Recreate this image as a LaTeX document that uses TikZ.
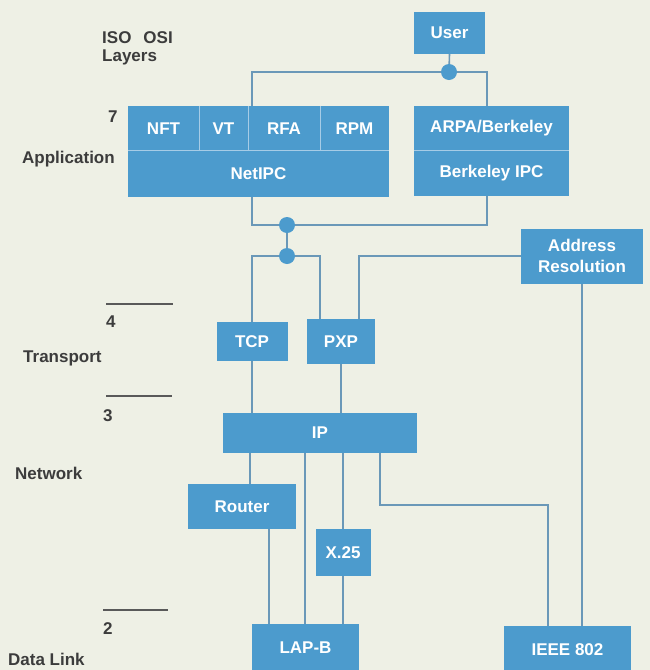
\documentclass[tikz,border=0pt]{standalone}
\usepackage{fontspec}
\setmainfont{Liberation Sans}
\definecolor{bgc}{HTML}{EEF0E5}
\definecolor{boxc}{HTML}{4C9BCD}
\definecolor{linec}{HTML}{6A98B8}
\definecolor{divc}{HTML}{A6CCE6}
\definecolor{labc}{HTML}{3C3C3C}
\pgfdeclarelayer{bg}
\pgfdeclarelayer{lines}
\pgfsetlayers{bg,lines,main}
\begin{document}
\begin{tikzpicture}[x=1pt,y=-1pt,
 box/.style={fill=boxc,text=white,inner sep=0pt,font=\bfseries\fontsize{17}{21}\selectfont,align=center},
 conn/.style={draw=linec,line width=1.6pt},
 jdot/.style={circle,fill=boxc,minimum size=16pt,inner sep=0pt},
 lab/.style={text=labc,inner sep=0pt,anchor=base west,font=\bfseries\fontsize{17}{20}\selectfont},
 layrule/.style={draw=labc!85,line width=1.3pt},
 divider/.style={draw=divc,line width=1.2pt}]
\useasboundingbox (0,0) rectangle (650,670);
\begin{pgfonlayer}{bg}
\fill[bgc] (0,0) rectangle (650,670);
\end{pgfonlayer}

% boxes
\node[box,minimum width=71pt,minimum height=42pt] (user) at (449.5,33) {User};
\node[box,minimum width=71pt,minimum height=45pt] (nft) at (163.5,128.5) {NFT};
\node[box,minimum width=49pt,minimum height=45pt] (vt) at (223.5,128.5) {VT};
\node[box,minimum width=72pt,minimum height=45pt] (rfa) at (284,128.5) {RFA};
\node[box,minimum width=69pt,minimum height=45pt] (rpm) at (354.5,128.5) {RPM};
\node[box,minimum width=261pt,minimum height=46pt] (netipc) at (258.5,174) {NetIPC};
\node[box,minimum width=155pt,minimum height=45pt] (arpa) at (491.5,128.5) {ARPA/Berkeley};
\node[box,minimum width=155pt,minimum height=45pt] (bipc) at (491.5,173.5) {Berkeley IPC};
\node[box,minimum width=71pt,minimum height=39pt] (tcp) at (252,341.5) {TCP};
\node[box,minimum width=68pt,minimum height=45pt] (pxp) at (341,341.5) {PXP};
\node[box,minimum width=122pt,minimum height=55pt] (addr) at (582,256) {Address\\Resolution};
\node[box,minimum width=194pt,minimum height=40pt] (ip) at (320,433) {IP};
\node[box,minimum width=108pt,minimum height=45pt] (router) at (242,506.5) {Router};
\node[box,minimum width=55pt,minimum height=47pt] (x25) at (343,552.5) {X.25};
\node[box,minimum width=107pt,minimum height=48pt] (lapb) at (305.5,648) {LAP-B};
\node[box,minimum width=127pt,minimum height=48pt] (ieee) at (567.5,650) {IEEE 802};

% dividers
\draw[divider] (nft.north east) -- (nft.south east);
\draw[divider] (vt.north east) -- (vt.south east);
\draw[divider] (rfa.north east) -- (rfa.south east);
\draw[divider] (netipc.north west) -- (netipc.north east);
\draw[divider] (bipc.north west) -- (bipc.north east);

% junction dots
\node[jdot] (udot) at (449,72) {};
\node[jdot] (dot1) at (287,225) {};
\node[jdot] (dot2) at (287,256) {};

% helper coordinates
\coordinate (rtin) at ([xshift=62pt]router.north west);
\coordinate (rtout) at ([xshift=81pt]router.south west);
\coordinate (lpin) at ([xshift=53pt]lapb.north west);
\coordinate (ieeein) at ([xshift=44pt]ieee.north west);
\coordinate (ipout) at ([xshift=157pt]ip.south west);

\begin{pgfonlayer}{lines}
\draw[conn] (user.south) -- (udot.center);
\draw[conn] ([xshift=4pt]rfa.north west) |- (udot.center) -| ([xshift=73pt]arpa.north west);
\draw[conn] ([xshift=124pt]netipc.south west) |- (dot1.center) -| ([xshift=73pt]bipc.south west);
\draw[conn] (dot1.center) -- (dot2.center);
\draw[conn] (tcp.north) |- (dot2.center) -| ([xshift=13pt]pxp.north west);
\draw[conn] ([xshift=52pt]pxp.north west) |- (addr.west);
\draw[conn] (addr.south) -- (addr.south |- ieee.north);
\draw[conn] (tcp.south) -- (tcp.south |- ip.north);
\draw[conn] (pxp.south) -- (pxp.south |- ip.north);
\draw[conn] (rtin |- ip.south) -- (rtin);
\draw[conn] (rtout) -- (rtout |- lapb.north);
\draw[conn] (lpin |- ip.south) -- (lpin);
\draw[conn] (x25.north |- ip.south) -- (x25.north);
\draw[conn] (x25.south) -- (x25.south |- lapb.north);
\draw[conn] (ipout) -- ++(0,52) -| (ieeein);
\end{pgfonlayer}

% layer labels
\node[lab] (iso) at (102,43) {ISO\hspace{12pt}OSI};
\node[lab] (layers) at (102,61) {Layers};
\node[lab] (l7) at (108,122) {7};
\node[lab] (app) at (22,163) {Application};
\node[lab] (l4) at (106,327) {4};
\node[lab] (transp) at (23,362) {Transport};
\node[lab] (l3) at (103,421) {3};
\node[lab] (netw) at (15,479) {Network};
\node[lab] (l2) at (103,634) {2};
\node[lab] (dlink) at (8,665) {Data Link};
\draw[layrule] (106,304) -- (173,304);
\draw[layrule] (106,396) -- (172,396);
\draw[layrule] (103,610) -- (168,610);
\end{tikzpicture}
\end{document}
